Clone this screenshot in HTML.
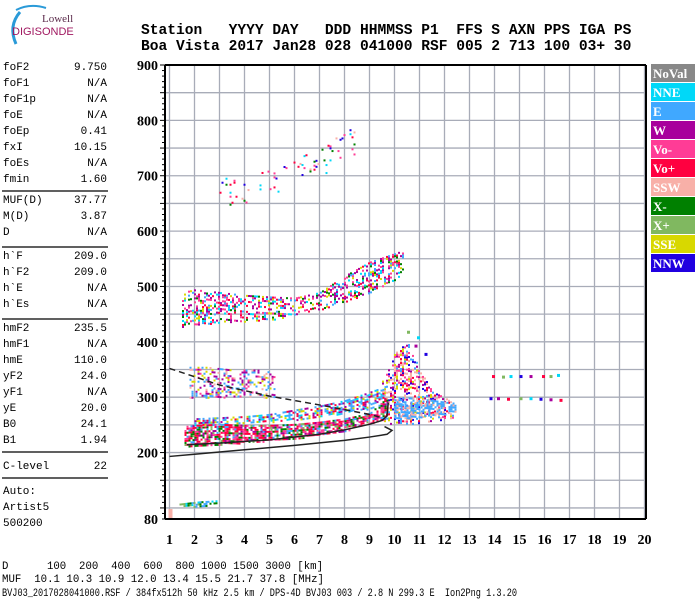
<!DOCTYPE html>
<html><head><meta charset="utf-8"><style>
html,body{margin:0;padding:0;background:#fff;width:700px;height:600px;overflow:hidden}
svg{display:block}
.m{font-family:"Liberation Mono",monospace;fill:#000}
.b{font-family:"Liberation Serif",serif;font-weight:bold;fill:#000}
</style></head><body>
<svg id="chart" width="700" height="600" viewBox="0 0 700 600" xmlns="http://www.w3.org/2000/svg">
<g>
<path d="M20 12 Q8 26 16 44" stroke="#2a9ad8" stroke-width="3" fill="none"/>
<path d="M16 10 Q30 3 46 8" stroke="#2a9ad8" stroke-width="2" fill="none"/>
<text x="42" y="22" font-family="Liberation Serif,serif" font-size="11" fill="#5a2a4a">Lowell</text>
<text x="12" y="35" font-family="Liberation Sans,sans-serif" font-size="11" fill="#a01860">DIGISONDE</text>
</g>
<g font-weight="bold">
<text class="m" x="141" y="34" font-size="14.6" xml:space="preserve">Station   YYYY DAY   DDD HHMMSS P1  FFS S AXN PPS IGA PS</text>
<text class="m" x="141" y="50" font-size="14.6" xml:space="preserve">Boa Vista 2017 Jan28 028 041000 RSF 005 2 713 100 03+ 30</text>
</g>
<g id="leftpanel"></g>
<g id="plot"></g>
<g id="legend"></g>
<g>
<text class="m" x="2" y="569" font-size="11" textLength="321" lengthAdjust="spacingAndGlyphs" xml:space="preserve">D      100  200  400  600  800 1000 1500 3000 [km]</text>
<text class="m" x="2" y="582" font-size="11" textLength="322" lengthAdjust="spacingAndGlyphs" xml:space="preserve">MUF  10.1 10.3 10.9 12.0 13.4 15.5 21.7 37.8 [MHz]</text>
<text class="m" x="2" y="596" font-size="11" textLength="515" lengthAdjust="spacingAndGlyphs" xml:space="preserve">BVJ03_2017028041000.RSF / 384fx512h 50 kHz 2.5 km / DPS-4D BVJ03 003 / 2.8 N 299.3 E  Ion2Png 1.3.20</text>
</g>
</svg>
<script>
const NS='http://www.w3.org/2000/svg';
const paramNames=['foF2','foF1','foF1p','foE','foEp','fxI','foEs','fmin','MUF(D)','M(D)','D','h`F','h`F2','h`E','h`Es','hmF2','hmF1','hmE','yF2','yF1','yE','B0','B1','C-level'];
const paramValues=['9.750','N/A','N/A','N/A','0.41','10.15','N/A','1.60','37.77','3.87','N/A','209.0','209.0','N/A','N/A','235.5','N/A','110.0','24.0','N/A','20.0','24.1','1.94','22'];
const legendNames=['NoVal','NNE','E','W','Vo-','Vo+','SSW','X-','X+','SSE','NNW'];
const legendColors=['#888888','#00d8f8','#40a8ff','#a8009c','#ff3c96','#ff0040','#f8b0a8','#008000','#80b860','#d8d800','#2000e0'];
const xTicks=[1,2,3,4,5,6,7,8,9,10,11,12,13,14,15,16,17,18,19,20];
const yTickLabels=[900,800,700,600,500,400,300,200,80];
// traces (MHz, km)
const mainF=[1.6,2,3,4,5,6,7,8,9,9.7];
const mainLo=[213,212,215,218,222,226,232,240,252,262];
const mainHi=[248,250,252,250,250,252,256,262,272,300];
const cyanF=[2,3,4,5,6,7,8,9,9.6];
const cyanLo=[250,252,254,256,260,266,272,280,290];
const cyanHi=[262,264,266,270,278,285,295,310,320];
const clutF=[1.8,2.5,3.5,4.5,5.2];
const clutLo=[300,300,300,300,300];
const clutHi=[355,355,350,350,345];
const hop2F=[1.5,2,3,4,5,6,7,8,9,10.3];
const hop2Lo=[428,432,435,438,440,448,458,472,490,520];
const hop2Hi=[490,495,490,485,482,480,490,520,545,565];
const hop3F=[3,4,5,6,7,8,8.5];
const hop3Lo=[640,650,660,680,700,720,740];
const hop3Hi=[700,700,710,730,750,780,790];
const sprF=[9.5,10,10.5,11,11.5,12,12.3];
const sprLo=[255,252,252,255,258,260,262];
const sprHi=[330,380,400,350,310,300,290];
const blobF=[10,10.5,11,11.5,12,12.4];
const blobLo=[262,262,265,268,270,275];
const blobHi=[300,300,298,295,292,290];
const esF=[1.4,1.8,2.2,2.6,2.9];
const esLo=[103,103,104,106,108];
const esHi=[108,110,112,113,114];
const ptsF=[13.9,14.3,14.6,15,15.4,15.9,16.2,16.5,13.8,14.1,14.5,15,15.4,15.8,16.2,16.6,10.5,10.9,11.2,10.8];
const ptsH=[340,339,340,340,340,340,340,342,300,300,299,300,300,299,298,297,420,410,380,395];
const profF=[1,2,4,6,8,9,9.7,9.9,9.6];
const profH=[193,197,205,213,222,228,233,240,247];
const traceF=[1.7,3,5,7,8,9,9.5,9.7,9.75];
const traceH=[214,217,223,233,241,251,258,266,290];
const dashF=[1,3,5,7,9,9.5];
const dashH=[352,322,302,286,269,263];

const X=f=>169.5+(f-1)*25;
const Y=h=>65+(900-h)*454/820;
function el(t,a,p){const e=document.createElementNS(NS,t);for(const k in a)e.setAttribute(k,a[k]);p.appendChild(e);return e;}
const lp=document.getElementById('leftpanel');
const plot=document.getElementById('plot');
const leg=document.getElementById('legend');

const rowY=[70,86,102,118,134,150,166,182,203,219,235,259,275,291,307,331,347,363,379,395,411,427,443,469];
paramNames.forEach((n,i)=>{
  const t=el('text',{class:'m',x:3,y:rowY[i],'font-size':11},lp);t.textContent=n;
  
  
  const v=el('text',{class:'m',x:107,y:rowY[i],'font-size':11,'text-anchor':'end'},lp);v.textContent=paramValues[i];
  
  
});
[191,247,319,452,478].forEach(y=>{const l=el('line',{x1:2,x2:108,y1:y,y2:y,stroke:'#000','stroke-width':1.2},lp);
  
  });
['Auto:','Artist5','500200'].forEach((s,i)=>{const t=el('text',{class:'m',x:3,y:494+i*16,'font-size':11},lp);t.textContent=s;
  
  });

for(let h=100;h<=850;h+=50){const l=el('line',{x1:165,x2:646,y1:Y(h),y2:Y(h),stroke:'#a8acb8','stroke-width':1.3},plot);
  
  }
xTicks.forEach(f=>{const l=el('line',{x1:X(f),x2:X(f),y1:65,y2:519,stroke:'#a8acb8','stroke-width':1.3},plot);
  
  });

function hsh(a,b){let h=(a*374761393+b*668265263)|0;h=(h^(h>>>13))*1274126177|0;return ((h^(h>>>16))>>>0);}
function band(F,LO,HI,cols,dens,name,seed){
  const g=el('g',{},plot);
  
  
  const x0=X(F[0]),x1=X(F[F.length-1]);
  for(let x=x0,xi=0;x<=x1;x+=2,xi++){
    const f=F[0]+(x-x0)/25;let k=0;while(k<F.length-2&&f>F[k+1])k++;
    const t=(f-F[k])/(F[k+1]-F[k]);
    const lo=LO[k]+t*(LO[k+1]-LO[k]),hi=HI[k]+t*(HI[k+1]-HI[k]);
    for(let y=Y(hi),yi=0;y<=Y(lo);y+=2,yi++){
      const hv=hsh(xi+seed,yi+seed*3);
      if((hv%100)>=dens*100)continue;
      el('rect',{x:x,y:y,width:2,height:2,fill:cols[(hv>>>8)%cols.length]},g);
    }
  }
}
const C=legendColors;
band(hop3F,hop3Lo,hop3Hi,[C[5],C[7],C[4],C[1],C[10],C[6]],0.06,'trace-f-3hop',1);
band(clutF,clutLo,clutHi,[C[3],C[2],C[4],C[3],C[2],C[6],C[9]],0.35,'clutter-300km',2);
band(hop2F,hop2Lo,hop2Hi,[C[3],C[4],C[5],C[2],C[1],C[7],C[3],C[4],C[9]],0.4,'trace-f-2hop',3);
band(sprF,sprLo,sprHi,[C[6],C[6],C[5],C[3],C[10],C[9],C[4],C[2]],0.45,'spread-f',4);
band(blobF,blobLo,blobHi,[C[2],C[2],C[2],C[6]],0.65,'spread-f-blob',5);
band(cyanF,cyanLo,cyanHi,[C[2],C[1],C[2],C[3],C[9],C[5]],0.55,'trace-f-upper',6);
band(mainF,mainLo,mainHi,[C[5],C[4],C[3],C[7],C[5],C[2],C[4],C[8],C[5],C[7]],0.75,'trace-f-main',7);
band(esF,esLo,esHi,[C[7],C[7],C[2],C[1],C[8]],0.75,'trace-es',8);
ptsF.forEach((f,i)=>{const r=el('rect',{x:X(f),y:Y(ptsH[i]),width:3,height:3,fill:[C[5],C[8],C[1],C[10],C[3]][i%5]},plot);
  
  });
const nv=el('rect',{x:X(1)-1,y:Y(98),width:4,height:519-Y(98),fill:C[6]},plot);



function poly(F,H,extra,name){const p=el('polyline',Object.assign({points:F.map((f,i)=>X(f)+','+Y(H[i])).join(' '),fill:'none',stroke:'#222','stroke-width':1.5},extra),plot);
  
  }
poly(profF,profH,{},'profile-line');
poly(traceF,traceH,{},'trace-fit-line');
poly(dashF,dashH,{'stroke-dasharray':'6,4'},'x-trace-line');

[[165,65,646,65],[646,65,646,519],[165,519,646,519],[165,65,165,519]].forEach(a=>{
  const l=el('line',{x1:a[0],y1:a[1],x2:a[2],y2:a[3],stroke:'#000','stroke-width':2},plot);
  
  });
for(let h=80;h<=900;h+=10){const w=(h%50===0)?5:3;el('line',{x1:165-w,x2:165,y1:Y(h),y2:Y(h),stroke:'#000','stroke-width':1},plot);}
yTickLabels.forEach(h=>{const t=el('text',{class:'b',x:158,y:Y(h)+5,'font-size':14,'text-anchor':'end'},plot);t.textContent=h;
  
  });
xTicks.forEach(f=>{const t=el('text',{class:'b',x:X(f),y:544,'font-size':14,'text-anchor':'middle'},plot);t.textContent=f;
  
  });

legendNames.forEach((n,i)=>{
  const g=el('g',{},leg);
  
  
  el('rect',{x:651,y:64+i*19,width:44,height:18,fill:legendColors[i]},g);
  const t=el('text',{class:'b',x:653,y:78+i*19,'font-size':13},g);
  t.setAttribute('style','fill:#fff');t.textContent=n;
});
</script>
</body></html>
